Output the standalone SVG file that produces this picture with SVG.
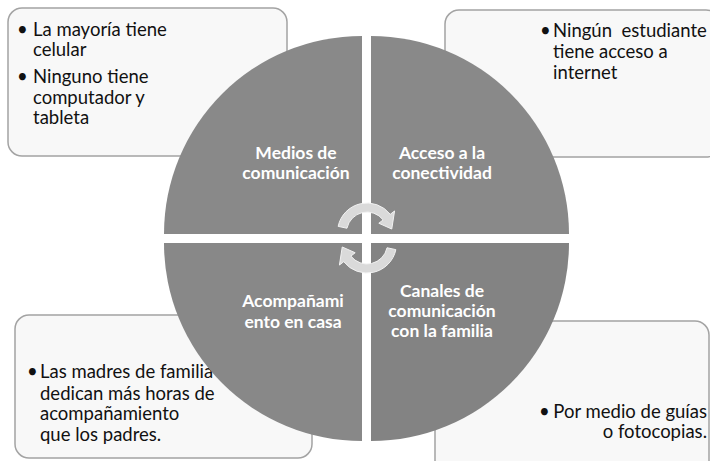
<svg xmlns="http://www.w3.org/2000/svg" width="710" height="461" viewBox="0 0 710 461">
<defs>
<style>
.box{fill:#f8f8f8;stroke:#a3a3a3;stroke-width:1.5}
.bt{font-family:Lato,"Liberation Sans",sans-serif;font-size:18.5px;fill:#111}
.q{stroke:none}
.qt{font-family:Lato,"Liberation Sans",sans-serif;font-size:17.5px;font-weight:bold;fill:#fff;text-anchor:middle}
.arr{fill:#dadada;stroke:#f2f2f2;stroke-width:1}
</style>
<path id="arrowShape" d="M338.15,226.37 A29.5,29.5 0 0 1 390.25,214.34 L394.58,210.95 L391.76,229.02 L378.82,223.26 L383.15,219.88 A20.5,20.5 0 0 0 346.95,228.24 Z"/>
</defs>
<rect width="710" height="461" fill="#fff"/>
<g id="box-tl">
<rect class="box" x="8" y="8" width="279" height="148" rx="14"/>
<text class="bt"><tspan x="17" y="36">•</tspan><tspan x="33" y="36">La mayoría tiene</tspan><tspan x="33" y="56">celular</tspan><tspan x="17" y="83">•</tspan><tspan x="33" y="83">Ninguno tiene</tspan><tspan x="33" y="104">computador y</tspan><tspan x="33" y="124">tableta</tspan></text>
</g>
<g id="box-tr">
<rect class="box" x="445" y="10" width="275" height="147" rx="14"/>
<text class="bt" style="white-space:pre"><tspan x="540" y="37">•</tspan><tspan x="553" y="37">Ningún  estudiante</tspan><tspan x="553" y="58">tiene acceso a</tspan><tspan x="553" y="79">internet</tspan></text>
</g>
<g id="box-bl">
<rect class="box" x="15" y="315" width="297" height="143" rx="14"/>
<text class="bt"><tspan x="27" y="378">•</tspan><tspan x="40" y="378">Las madres de familia</tspan><tspan x="40" y="400">dedican más horas de</tspan><tspan x="40" y="420">acompañamiento</tspan><tspan x="40" y="441">que los padres.</tspan></text>
</g>
<g id="box-br">
<rect class="box" x="435" y="321" width="274" height="160" rx="14"/>
<text class="bt"><tspan x="539" y="418">•</tspan><tspan x="707" y="418" text-anchor="end">Por medio de guías</tspan><tspan x="707" y="438" text-anchor="end">o fotocopias.</tspan></text>
</g>
<g id="q-medios">
<path class="q" fill="#898989" d="M362,234 L164,234 A198,198 0 0 1 362,36 Z"/>
<text class="qt"><tspan x="296" y="159">Medios de</tspan><tspan x="296" y="179">comunicación</tspan></text>
</g>
<g id="q-acceso">
<path class="q" fill="#898989" d="M371,234 L371,36 A198,198 0 0 1 569,234 Z"/>
<text class="qt"><tspan x="442" y="159">Acceso a la</tspan><tspan x="442" y="179">conectividad</tspan></text>
</g>
<g id="q-acompanamiento">
<path class="q" fill="#888888" d="M362,243 L362,441 A198,198 0 0 1 164,243 Z"/>
<text class="qt"><tspan x="293" y="307">Acompañami</tspan><tspan x="293" y="328">ento en casa</tspan></text>
</g>
<g id="q-canales">
<path class="q" fill="#838383" d="M371,243 L569,243 A198,198 0 0 1 371,441 Z"/>
<text class="qt"><tspan x="442" y="297">Canales de</tspan><tspan x="442" y="317">comunicación</tspan><tspan x="442" y="337">con la familia</tspan></text>
</g>
<g id="connectors">
<use href="#arrowShape" class="arr"/>
<use href="#arrowShape" class="arr" transform="rotate(180 367 238)"/>
</g>
</svg>
